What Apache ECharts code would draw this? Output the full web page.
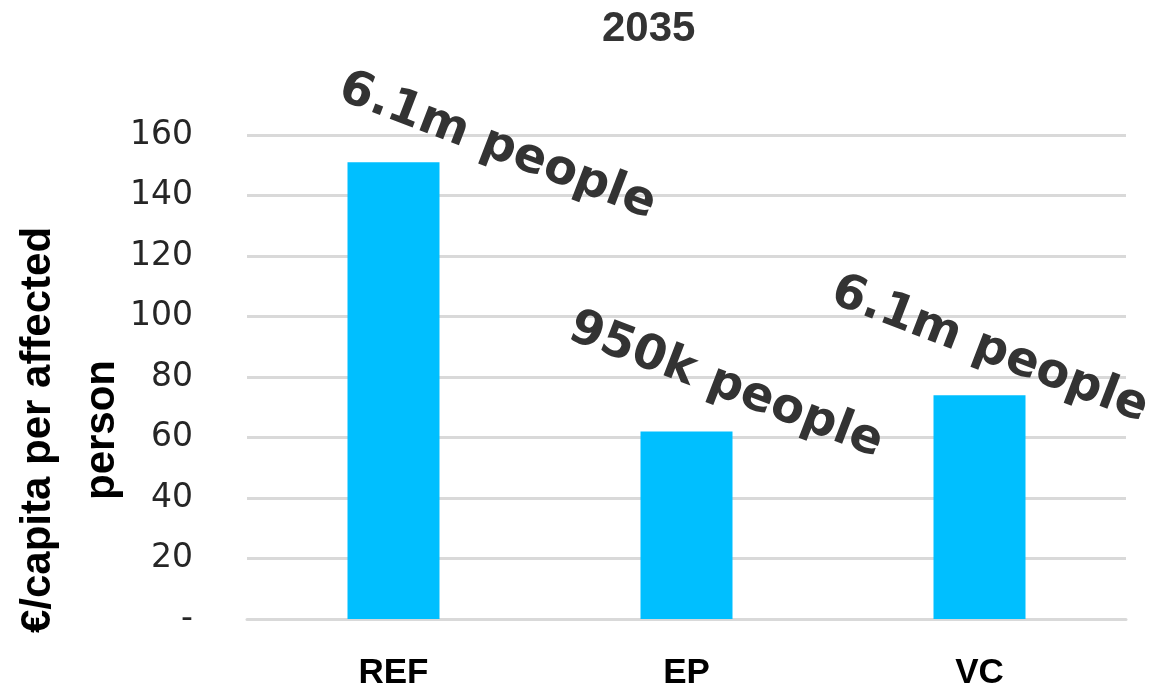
<!DOCTYPE html>
<html>
<head>
<meta charset="utf-8">
<script src="https://cdn.jsdelivr.net/npm/echarts@6/dist/echarts.min.js"></script>
<style>html,body{margin:0;padding:0;background:#fff;}#c{width:1157px;height:691px;}</style>
</head>
<body>
<div id="c"></div>
<script>
const categories = ['REF', 'EP', 'VC'];
const values = [151, 62, 74];
const barNotes = ['6.1m people', '950k people', '6.1m people'];
const yTicks = [0, 20, 40, 60, 80, 100, 120, 140, 160];
const titleText = '2035';
const yAxisTitle = '€/capita per affected\nperson';

// label placement (layout only)
const noteOffsets = [[93, -47], [22, -52], [-5, -41]];

const chart = echarts.init(document.getElementById('c'), null, {renderer: 'canvas'});
chart.setOption({
  backgroundColor: '#ffffff',
  animation: false,
  title: {
    text: titleText, left: 597, top: 3,
    textStyle: {fontFamily: 'Liberation Sans', fontWeight: 'bold', fontSize: 42, color: '#333333'}
  },
  grid: {left: 247, right: 31, top: 135, bottom: 69},
  graphic: [{
    type: 'text', z: 10,
    x: 70, y: 430,
    rotation: Math.PI / 2,
    style: {
      text: yAxisTitle, font: 'bold 42px "Liberation Sans"', fill: '#000000',
      align: 'center', verticalAlign: 'middle', lineHeight: 64
    }
  }],
  xAxis: {
    type: 'category', data: categories,
    axisLine: {show: true, lineStyle: {color: '#d9d9d9', width: 3}},
    axisTick: {show: false},
    axisLabel: {margin: 37, fontFamily: 'Liberation Sans', fontWeight: 'bold', fontSize: 35, color: '#000000'}
  },
  yAxis: {
    type: 'value', min: yTicks[0], max: yTicks[yTicks.length - 1], interval: 20,
    axisLine: {show: false}, axisTick: {show: false},
    splitLine: {lineStyle: {color: '#d9d9d9', width: 3}},
    axisLabel: {
      margin: 54, fontFamily: 'DejaVu Sans', fontSize: 33, color: '#262626',
      formatter: v => (v === 0 ? '-' : String(v))
    }
  },
  series: [{
    type: 'bar', barWidth: 92,
    itemStyle: {color: '#00BFFF'},
    data: values.map((v, i) => ({
      value: v,
      label: {
        show: true, position: 'top', rotate: -21,
        align: 'center', verticalAlign: 'middle',
        offset: noteOffsets[i],
        formatter: barNotes[i],
        fontFamily: 'DejaVu Sans', fontWeight: 'bold', fontSize: 48, color: '#333333'
      }
    }))
  }]
});
</script>
</body>
</html>
